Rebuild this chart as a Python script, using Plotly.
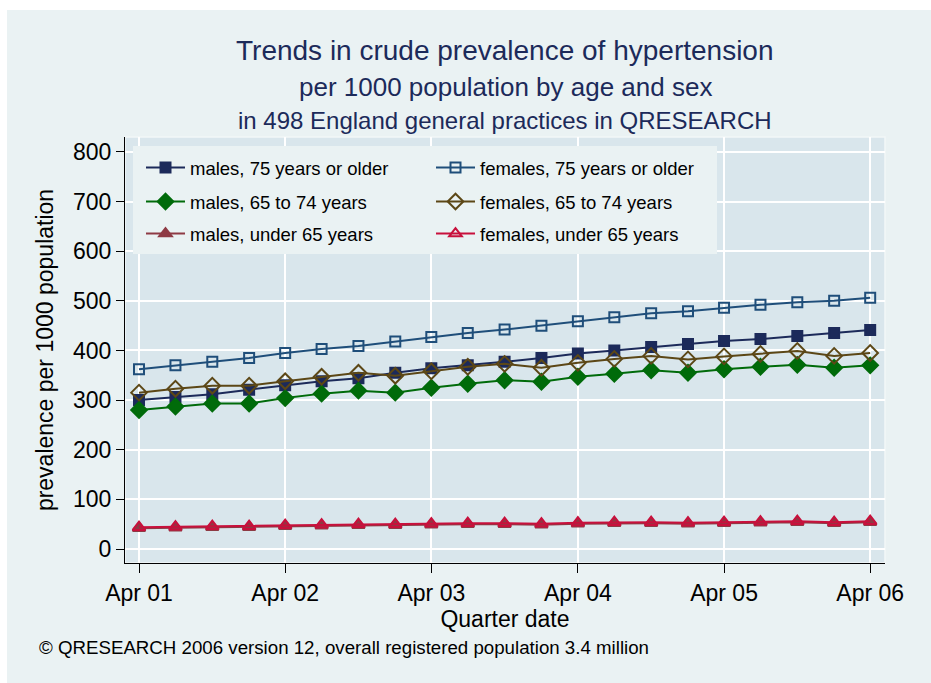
import plotly.graph_objects as go

quarters = ["2001-04-01", "2001-07-01", "2001-10-01", "2002-01-01",
            "2002-04-01", "2002-07-01", "2002-10-01", "2003-01-01",
            "2003-04-01", "2003-07-01", "2003-10-01", "2004-01-01",
            "2004-04-01", "2004-07-01", "2004-10-01", "2005-01-01",
            "2005-04-01", "2005-07-01", "2005-10-01", "2006-01-01",
            "2006-04-01"]

males_75 = [300, 306, 312, 321, 330, 338, 344, 355, 364, 370, 377,
            385, 394, 400, 407, 413, 419, 423, 429, 435, 441]
females_75 = [362, 370, 377, 385, 395, 403, 409, 418, 427, 435, 442,
              450, 459, 467, 475, 479, 486, 492, 497, 500, 506]
males_65_74 = [280, 287, 293, 293, 304, 313, 319, 315, 325, 333, 340,
               337, 347, 353, 360, 355, 362, 367, 371, 365, 370]
females_65_74 = [315, 323, 329, 329, 338, 347, 355, 349, 358, 367, 373,
                 365, 375, 383, 389, 382, 388, 393, 399, 389, 395]
males_u65 = [42, 43, 44, 44, 46, 47, 48, 48, 49, 50, 50,
             49, 51, 52, 52, 51, 52, 53, 54, 52, 54]
females_u65 = [44, 45, 46, 46, 48, 49, 50, 50, 51, 52, 52,
               51, 53, 54, 54, 53, 54, 55, 56, 54, 56]

tick_dates = ["2001-04-01", "2002-04-01", "2003-04-01", "2004-04-01",
              "2005-04-01", "2006-04-01"]
tick_labels = ["Apr 01", "Apr 02", "Apr 03", "Apr 04", "Apr 05", "Apr 06"]
y_ticks = [0, 100, 200, 300, 400, 500, 600, 700, 800]

series = [
    ("males, 75 years or older", males_75, "#1C2A5A", "square", 10, "legend"),
    ("females, 75 years or older", females_75, "#1F4E7A", "square-open", 10, "legend"),
    ("males, 65 to 74 years", males_65_74, "#006B0A", "diamond", 12, "legend2"),
    ("females, 65 to 74 years", females_65_74, "#5C4716", "diamond-open", 12, "legend2"),
    ("males, under 65 years", males_u65, "#8E3A44", "triangle-up", 11, "legend3"),
    ("females, under 65 years", females_u65, "#C8103C", "triangle-up-open", 11, "legend3"),
]

FONT = "Liberation Sans, Arial, sans-serif"
fig = go.Figure()
for name, vals, col, sym, sz, lg in series:
    fig.add_trace(go.Scatter(
        x=quarters, y=vals, name=name, mode="lines+markers", legend=lg,
        line=dict(color=col, width=2),
        marker=dict(symbol=sym, size=sz, color=col,
                    line=dict(color=col, width=2)),
    ))

W, H = 931, 683
# plot-area edges in page pixels
L, R, T, B = 125, 885, 137, 563
pw, ph = R - L, B - T

def px(xp):
    return (xp - L) / pw

def py(yp):
    return (B - yp) / ph

bg = "#EAF2F3"
leg_common = dict(
    orientation="h", xanchor="left", yanchor="top",
    bgcolor="rgba(0,0,0,0)", borderwidth=0,
    entrywidth=236, entrywidthmode="pixels",
    font=dict(size=18.5, family=FONT, color="black"),
    itemwidth=39,
)
fig.update_layout(
    width=W, height=H,
    margin=dict(l=L, r=W - R, t=T, b=H - B, pad=0),
    paper_bgcolor=bg,
    plot_bgcolor="#D9E6EC",
    font=dict(family=FONT, color="black", size=18),
    showlegend=True,
    legend=dict(leg_common, x=px(141), y=py(149)),
    legend2=dict(leg_common, x=px(141), y=py(183)),
    legend3=dict(leg_common, x=px(141), y=py(215)),
    xaxis=dict(
        type="date", range=["2001-02-25", "2006-05-08"],
        tickvals=tick_dates, ticktext=tick_labels,
        showgrid=True, gridcolor="white", gridwidth=1.5,
        showline=True, linecolor="black", linewidth=1.2,
        ticks="outside", ticklen=9, tickcolor="black", tickwidth=1,
        tickfont=dict(size=23, family=FONT),
        title=dict(text="Quarter date", font=dict(size=23, family=FONT), standoff=2),
        zeroline=False,
    ),
    yaxis=dict(
        range=[-28.2, 830], tickvals=y_ticks,
        showgrid=True, gridcolor="white", gridwidth=1.5,
        showline=True, linecolor="black", linewidth=1.2,
        ticks="outside", ticklen=8, tickcolor="black", tickwidth=1,
        tickfont=dict(size=23, family=FONT),
        title=dict(text="prevalence per 1000 population",
                   font=dict(size=23, family=FONT), standoff=12),
        zeroline=False,
    ),
    shapes=[
        dict(type="rect", xref="paper", yref="paper",
             x0=px(0), x1=px(W), y0=py(0), y1=py(10),
             fillcolor="white", line=dict(width=0), layer="above"),
        dict(type="rect", xref="paper", yref="paper",
             x0=px(0), x1=px(7), y0=py(0), y1=py(H),
             fillcolor="white", line=dict(width=0), layer="above"),
        dict(type="rect", xref="paper", yref="paper",
             x0=0, x1=1, y0=0, y1=1,
             fillcolor="rgba(0,0,0,0)", line=dict(color="#F2F7F8", width=1.5),
             layer="below"),
        dict(type="rect", xref="paper", yref="paper",
             x0=px(133), x1=px(717), y0=py(254), y1=py(146),
             fillcolor=bg, line=dict(width=0), layer="above"),
    ],
    annotations=[
        dict(text="Trends in crude prevalence of hypertension", xref="paper", yref="paper",
             x=0.5, y=py(51), xanchor="center", yanchor="middle", showarrow=False,
             font=dict(size=28, color="#1C2A5A", family=FONT)),
        dict(text="per 1000 population by age and sex", xref="paper", yref="paper",
             x=0.5, y=py(87), xanchor="center", yanchor="middle", showarrow=False,
             font=dict(size=26, color="#1C2A5A", family=FONT)),
        dict(text="in 498 England general practices in QRESEARCH", xref="paper", yref="paper",
             x=0.5, y=py(120), xanchor="center", yanchor="middle", showarrow=False,
             font=dict(size=24, color="#1C2A5A", family=FONT)),
        dict(text="\u00a9 QRESEARCH 2006 version 12, overall registered population 3.4 million",
             xref="paper", yref="paper", x=px(37), y=py(647),
             xanchor="left", yanchor="middle", showarrow=False,
             font=dict(size=18.7, color="black", family=FONT)),
    ],
)

fig.write_html(
    "out.html",
    config={"displayModeBar": False},
    post_script="document.body.style.margin='0';document.body.style.overflow='hidden';",
)
